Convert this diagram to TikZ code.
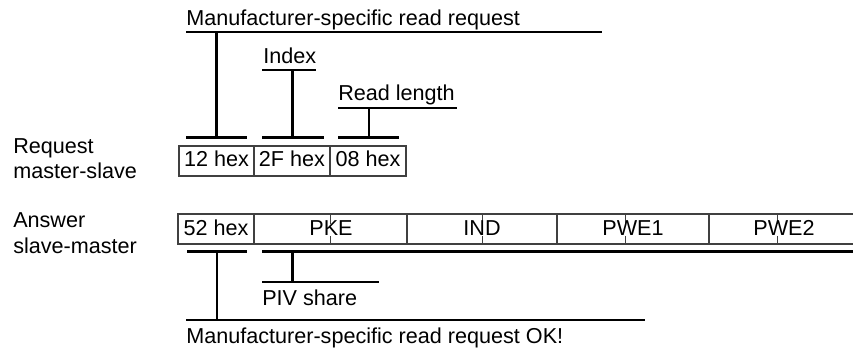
\documentclass[tikz,border=0pt]{standalone}
\usepackage{fontspec}
\setmainfont{Liberation Sans}
\begin{document}
\begin{tikzpicture}[x=0.75pt,y=-0.75pt,
  lbl/.style={anchor=base west,inner sep=0pt,font=\fontsize{16.2}{18}\selectfont},
  cell/.style={anchor=base,inner sep=0pt,font=\fontsize{16.2}{18}\selectfont},
  brk/.style={line width=1.6pt,black},
  boxl/.style={line width=0.8pt,draw=black!75},
  tick/.style={line width=0.7pt,draw=black!75}]
\useasboundingbox (0,0) rectangle (853,350);
\fill[white] (0,0) rectangle (853,350);

% left labels
\node[lbl] (req1) at (13,153) {Request};
\node[lbl] (req2) at (13,178) {master-slave};
\node[lbl] (ans1) at (13,227) {Answer};
\node[lbl] (ans2) at (13,253) {slave-master};

% request boxes
\draw[boxl] (179,146) rectangle (406,176);
\draw[boxl] (254,146) -- (254,176);
\draw[boxl] (330,146) -- (330,176);
\node[cell] (c12) at (216.5,166.5) {12 hex};
\node[cell] (c2F) at (292,166.5) {2F hex};
\node[cell] (c08) at (368,166.5) {08 hex};

% top annotations
\node[lbl] (mrr) at (186,25) {Manufacturer-specific read request};
\node[lbl] (idx) at (263,63) {Index};
\node[lbl] (rl) at (338,100.5) {Read length};

\coordinate (m1) at (186,32); \coordinate (m2) at (602,32);
\coordinate (m3) at (216.5,32); \coordinate (m4) at (216.5,137.5);
\coordinate (m5) at (186,137.5); \coordinate (m6) at (247,137.5);
\draw[brk] (m1) -- (m2);
\draw[brk] (m3) -- (m4);
\draw[brk] (m5) -- (m6);

\coordinate (i1) at (262,70); \coordinate (i2) at (316,70);
\coordinate (i3) at (292.5,70); \coordinate (i4) at (292.5,137.5);
\coordinate (i5) at (262,137.5); \coordinate (i6) at (324,137.5);
\draw[brk] (i1) -- (i2);
\draw[brk] (i3) -- (i4);
\draw[brk] (i5) -- (i6);

\coordinate (r1) at (338,107.7); \coordinate (r2) at (457,107.7);
\coordinate (r3) at (369,107.7); \coordinate (r4) at (369,137.5);
\coordinate (r5) at (338,137.5); \coordinate (r6) at (399,137.5);
\draw[brk] (r1) -- (r2);
\draw[brk] (r3) -- (r4);
\draw[brk] (r5) -- (r6);

% answer boxes
\draw[boxl] (860,214) -- (178,214) -- (178,244) -- (860,244);
\foreach \x in {254,407,557,709} \draw[boxl] (\x,214) -- (\x,244);
\foreach \x in {330,482,625,777} {
  \draw[tick] (\x,214) -- (\x,224);
  \draw[tick] (\x,236) -- (\x,244);
}
\node[cell] (a52) at (216,235) {52 hex};
\node[cell] (pke) at (331,235) {PKE};
\node[cell] (ind) at (482,235) {IND};
\node[cell] (pw1) at (633,235) {PWE1};
\node[cell] (pw2) at (784,235) {PWE2};

% bottom annotations
\coordinate (b1) at (187,251.5); \coordinate (b2) at (247,251.5);
\coordinate (b3) at (217,251.5); \coordinate (b4) at (217,320);
\draw[brk] (b1) -- (b2);
\draw[brk] (b3) -- (b4);
\coordinate (p1) at (262,251.5); \coordinate (p2) at (860,251.5);
\coordinate (p3) at (292.5,251.5); \coordinate (p4) at (292.5,282);
\coordinate (p5) at (262,282); \coordinate (p6) at (379,282);
\draw[brk] (p1) -- (p2);
\draw[brk] (p3) -- (p4);
\draw[brk] (p5) -- (p6);
\coordinate (o1) at (186,320); \coordinate (o2) at (645,320);
\draw[brk] (o1) -- (o2);
\node[lbl] (piv) at (262,305) {PIV share};
\node[lbl] (ok) at (186,343) {Manufacturer-specific read request OK!};
\end{tikzpicture}
\end{document}
